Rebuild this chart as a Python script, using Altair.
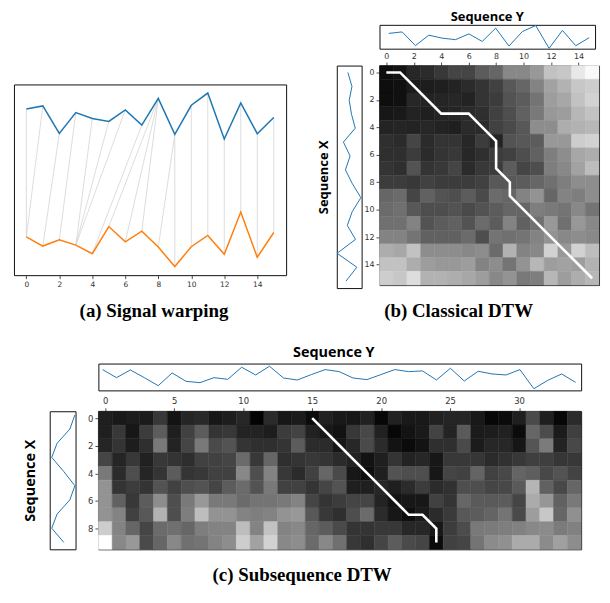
import altair as alt
import pandas as pd

# ---------------- data ----------------
# panel (a)/(b): Sequence Y (blue, 16 pts) and Sequence X (orange, 16 pts)
seq_y_ab = [4.90, 4.99, 4.16, 4.79, 4.61, 4.52, 4.87, 4.41, 5.22, 4.13, 5.01, 5.38, 3.99, 5.08, 4.15, 4.64]
seq_x_ab = [1.03, 0.75, 0.94, 0.78, 0.52, 1.34, 0.88, 1.20, 0.72, 0.13, 0.73, 1.07, 0.50, 1.78, 0.41, 1.16]

# classical DTW warping path (column = Sequence Y index, row = Sequence X index)
path_b_col = [0, 1, 2, 3, 4, 5, 6, 7, 8, 8, 8, 9, 9, 10, 11, 12, 13, 14, 15]
path_b_row = [0, 0, 1, 2, 3, 3, 3, 4, 5, 6, 7, 8, 9, 10, 11, 12, 13, 14, 15]

# classical DTW cost matrix (gray level, 0 = black, 255 = white), rows = Sequence X
heat_b = [
    [10, 15, 40, 45, 60, 75, 75, 100, 110, 145, 145, 160, 200, 205, 235, 250],
    [10, 12, 25, 28, 30, 35, 45, 55, 70, 95, 110, 140, 170, 185, 205, 210],
    [10, 12, 40, 35, 38, 40, 35, 55, 65, 90, 100, 125, 165, 175, 200, 215],
    [20, 22, 35, 30, 35, 38, 45, 50, 70, 85, 105, 130, 160, 165, 190, 200],
    [35, 38, 35, 40, 35, 30, 45, 45, 70, 80, 95, 150, 150, 180, 185, 190],
    [50, 45, 75, 45, 55, 55, 40, 65, 35, 90, 95, 100, 160, 160, 210, 215],
    [50, 50, 65, 45, 55, 60, 40, 50, 65, 70, 85, 105, 135, 150, 175, 180],
    [55, 50, 90, 55, 60, 75, 45, 60, 65, 100, 75, 85, 135, 145, 170, 195],
    [65, 65, 60, 70, 65, 65, 65, 70, 95, 95, 100, 110, 120, 135, 150, 150],
    [110, 115, 75, 105, 90, 85, 100, 80, 115, 110, 140, 155, 110, 140, 135, 150],
    [115, 120, 95, 85, 85, 90, 80, 90, 100, 110, 110, 135, 130, 125, 145, 125],
    [120, 120, 140, 90, 100, 105, 90, 115, 100, 140, 105, 120, 160, 120, 160, 145],
    [140, 140, 125, 105, 105, 105, 115, 85, 125, 120, 125, 140, 155, 145, 150, 145],
    [180, 175, 200, 150, 150, 150, 145, 150, 115, 185, 140, 145, 215, 160, 215, 195],
    [200, 200, 180, 165, 160, 160, 165, 140, 150, 125, 155, 190, 165, 170, 165, 185],
    [210, 205, 225, 185, 185, 180, 175, 165, 145, 155, 130, 135, 190, 165, 180, 190],
]

# panel (c): Sequence Y (35 pts) and Sequence X (10 pts)
seq_y_c = [7.0, 4.6, 6.9, 4.6, 2.2, 6.0, 3.5, 3.1, 4.6, 4.1, 7.7, 5.4, 8.0, 4.5, 3.9, 5.5, 7.0, 6.4,
           4.5, 4.0, 5.5, 7.0, 6.4, 6.6, 3.9, 7.4, 3.6, 6.5, 5.7, 5.4, 7.0, 1.3, 3.8, 5.7, 3.2]
seq_x_c = [0.5, 2.0, 5.8, 7.4, 3.8, 0.5, 2.0, 5.8, 7.4, 3.8]

heat_c = [
    [30, 22, 28, 25, 60, 15, 38, 42, 20, 28, 40, 2, 45, 20, 25,
     8, 32, 22, 20, 32, 5, 32, 22, 22, 32, 38, 38, 22, 5, 8, 30, 80, 30, 5, 45],
    [30, 60, 20, 65, 100, 30, 70, 100, 55, 60, 35, 35, 28, 64, 72,
     32, 20, 14, 60, 78, 32, 5, 15, 23, 72, 35, 97, 25, 28, 32, 8, 110, 82, 25, 68],
    [38, 55, 28, 50, 130, 35, 75, 130, 80, 90, 55, 50, 50, 55, 100,
     45, 45, 18, 40, 80, 45, 15, 8, 15, 50, 50, 80, 25, 40, 40, 18, 92, 132, 35, 78],
    [75, 38, 60, 32, 60, 55, 48, 70, 70, 75, 115, 60, 110, 50, 55,
     60, 55, 45, 35, 15, 30, 55, 35, 40, 20, 60, 60, 58, 45, 52, 60, 68, 68, 58, 60],
    [130, 45, 85, 38, 55, 100, 55, 60, 70, 70, 145, 85, 140, 60, 45,
     70, 110, 80, 20, 10, 30, 90, 85, 85, 20, 75, 70, 108, 70, 78, 108, 102, 78, 90, 72],
    [155, 55, 65, 55, 90, 70, 85, 90, 75, 100, 115, 90, 130, 70, 70,
     55, 75, 90, 30, 30, 40, 30, 45, 65, 45, 52, 85, 85, 75, 78, 98, 188, 105, 78, 110],
    [155, 105, 60, 100, 150, 85, 130, 160, 130, 130, 115, 125, 125, 130, 140,
     75, 55, 65, 75, 75, 35, 15, 20, 20, 70, 55, 110, 98, 98, 100, 75, 178, 158, 105, 130],
    [155, 140, 70, 95, 185, 85, 135, 195, 155, 155, 140, 135, 140, 155, 160,
     95, 60, 50, 85, 115, 45, 20, 10, 25, 45, 62, 95, 100, 108, 125, 80, 165, 205, 110, 152],
    [210, 140, 110, 75, 115, 120, 110, 135, 140, 140, 195, 140, 200, 140, 145,
     110, 100, 80, 55, 55, 60, 60, 40, 40, 20, 65, 82, 130, 132, 135, 138, 145, 148, 132, 138],
    [255, 145, 160, 80, 110, 145, 120, 125, 140, 150, 210, 170, 215, 145, 150,
     115, 145, 120, 60, 50, 75, 100, 80, 75, 8, 70, 75, 125, 148, 152, 178, 178, 148, 168, 150],
]

# subsequence DTW warping path
path_c_col = [15, 16, 17, 18, 19, 20, 21, 22, 23, 24, 24]
path_c_row = [0, 1, 2, 3, 4, 5, 6, 7, 7, 8, 9]

# ---------------- styling helpers ----------------
AXF = "DejaVu Sans"
TF = "Open Sans"
CF = "Liberation Serif"
FRAME = alt.ViewBackground(stroke="#111111", strokeWidth=1)
BLUE = "#1f77b4"
ORANGE = "#ff7f0e"


def lin(domain, reverse=False):
    return alt.Scale(domain=domain, nice=False, zero=False, reverse=reverse)


def spacer(w, h):
    return (alt.Chart(alt.Data(values=[])).mark_point()
            .encode(x=alt.value(0), y=alt.value(0))
            .properties(width=w, height=h, view=alt.ViewBackground(fill="#ffffff")))


def tick_axis(values, orient, size):
    return alt.Axis(values=values, orient=orient, title=None, grid=False, domain=False,
                    tickSize=3.5, tickWidth=0.8, tickColor="#222", labelFont=AXF,
                    labelFontSize=size, labelColor="#333", labelPadding=2,
                    labelAngle=0, format="d")


def caption(text, offset, dx=0):
    return alt.TitleParams(text, orient="bottom", anchor="middle", font=CF, fontSize=19,
                           fontWeight="bold", color="black", offset=offset, dx=dx)


def seq_title(text, size, offset, dx=0):
    return alt.TitleParams(text, orient="top", anchor="middle", font=TF, fontSize=size,
                           fontWeight="bold", color="black", offset=offset, dx=dx)


def heat_df(mat):
    rows = []
    for r, line in enumerate(mat):
        for c, g in enumerate(line):
            rows.append({"col": c, "row": r, "g": g})
    return pd.DataFrame(rows)


GRAY = alt.Scale(domain=[0, 255], range=["#000000", "#ffffff"])


def heatmap(mat, pcol, prow, xdom, ydom, xticks, yticks, lsize, w, h):
    sx = lin(xdom)
    sy = lin(ydom, reverse=True)
    ax_x = tick_axis(xticks, "top", lsize)
    ax_y = tick_axis(yticks, "left", lsize)
    rect = (alt.Chart(heat_df(mat))
            .transform_calculate(x0="datum.col - 0.5", x1="datum.col + 0.5",
                                 y0="datum.row - 0.5", y1="datum.row + 0.5")
            .mark_rect(strokeWidth=0.5)
            .encode(x=alt.X("x0:Q", scale=sx, axis=ax_x), x2="x1:Q",
                    y=alt.Y("y0:Q", scale=sy, axis=ax_y), y2="y1:Q",
                    color=alt.Color("g:Q", scale=GRAY, legend=None),
                    stroke=alt.Stroke("g:Q", scale=GRAY, legend=None)))
    dfp = pd.DataFrame({"c": pcol, "r": prow, "s": list(range(len(pcol)))})
    path = (alt.Chart(dfp).mark_line(color="white", strokeWidth=2.6)
            .encode(x=alt.X("c:Q", scale=sx, axis=ax_x),
                    y=alt.Y("r:Q", scale=sy, axis=ax_y),
                    order="s:Q"))
    return alt.layer(rect, path).properties(width=w, height=h, view=FRAME)


def top_signal(vals, xdom, ydom, w, h, title, tsize, toff, tdx=0):
    df = pd.DataFrame({"i": list(range(len(vals))), "v": vals})
    return (alt.Chart(df).mark_line(color=BLUE, strokeWidth=1)
            .encode(x=alt.X("i:Q", scale=lin(xdom), axis=None),
                    y=alt.Y("v:Q", scale=lin(ydom), axis=None))
            .properties(width=w, height=h, view=FRAME,
                        title=seq_title(title, tsize, toff, tdx)))


def left_signal(vals, xdom, ydom, w, h, tsize, tpad):
    df = pd.DataFrame({"i": list(range(len(vals))), "v": vals})
    ax = alt.Axis(title="Sequence X", labels=False, ticks=False, domain=False, grid=False,
                  titleFont=TF, titleFontSize=tsize, titleFontWeight="bold",
                  titleColor="black", titlePadding=tpad)
    return (alt.Chart(df).mark_line(color=BLUE, strokeWidth=1)
            .encode(x=alt.X("v:Q", scale=lin(xdom, reverse=True), axis=None),
                    y=alt.Y("i:Q", scale=lin(ydom, reverse=True), axis=ax),
                    order="i:Q")
            .properties(width=w, height=h, view=FRAME))


# ---------------- panel (a) ----------------
df_a = pd.DataFrame({"i": list(range(16)), "ys": seq_y_ab, "xs": seq_x_ab})
df_w = pd.DataFrame({"c": path_b_col, "r": path_b_row,
                     "vy": [seq_y_ab[k] for k in path_b_col],
                     "vx": [seq_x_ab[k] for k in path_b_row]})
sxa = lin([-0.75, 15.75])
sya = lin([-0.13, 5.64])
ax_a = tick_axis(list(range(0, 16, 2)), "bottom", 7.5)
warp = (alt.Chart(df_w).mark_rule(color="#d4d4d4", strokeWidth=0.8)
        .encode(x=alt.X("c:Q", scale=sxa, axis=ax_a), y=alt.Y("vy:Q", scale=sya, axis=None),
                x2="r:Q", y2="vx:Q"))
line_y = (alt.Chart(df_a).mark_line(color=BLUE, strokeWidth=1.5)
          .encode(x=alt.X("i:Q", scale=sxa, axis=ax_a), y=alt.Y("ys:Q", scale=sya, axis=None)))
line_x = (alt.Chart(df_a).mark_line(color=ORANGE, strokeWidth=1.5)
          .encode(x=alt.X("i:Q", scale=sxa, axis=ax_a), y=alt.Y("xs:Q", scale=sya, axis=None)))
A = alt.layer(warp, line_y, line_x).properties(
    width=274, height=192, view=FRAME, title=caption("(a) Signal warping", 14, 4))

# ---------------- panel (b) ----------------
BY = top_signal(seq_y_ab, [-0.69, 15.44], [3.97, 5.42], 217, 24, "Sequence Y", 13, 0)
BX = left_signal(seq_x_ab, [0.08, 1.80], [-0.5, 15.5], 25, 224, 13, 6)
BH = heatmap(heat_b, path_b_col, path_b_row, [-0.5, 15.5], [-0.5, 15.5],
             list(range(0, 16, 2)), list(range(0, 16, 2)), 8, 221, 221)

# ---------------- panel (c) ----------------
CY = top_signal(seq_y_c, [-0.3, 34.4], [0.8, 8.8], 486, 27, "Sequence Y", 14.5, 3, -6)
CX = left_signal(seq_x_c, [0.3, 8.0], [-0.26, 9.49], 26, 139, 14.5, 12)
CH = heatmap(heat_c, path_c_col, path_c_row, [-0.5, 34.5], [-0.5, 9.5],
             list(range(0, 35, 5)), list(range(0, 10, 2)), 8.5, 486, 139)

# ---------------- layout ----------------
colA = alt.vconcat(spacer(274, 60), A, spacing=0, bounds="flush")
colB = alt.concat(spacer(25, 24), BY, BX, BH, columns=2, align="each", bounds="flush",
                  spacing={"row": 17, "column": 18}).properties(
    title=caption("(b) Classical DTW", 14))
row1 = alt.hconcat(colA, colB, spacing=30)

colC = alt.concat(spacer(26, 27), CY, CX, CH, columns=2, align="each", bounds="flush",
                  spacing={"row": 21, "column": 23}).properties(
    title=caption("(c) Subsequence DTW", 16))
row2 = alt.hconcat(spacer(8, 10), colC, spacing=0)

chart = (alt.vconcat(row1, row2, spacing=23)
         .properties(padding={"left": 5, "top": 0, "right": 2, "bottom": 2})
         .configure_view(stroke=None))

chart.save("out.html", embed_options={"renderer": "svg", "actions": False})
